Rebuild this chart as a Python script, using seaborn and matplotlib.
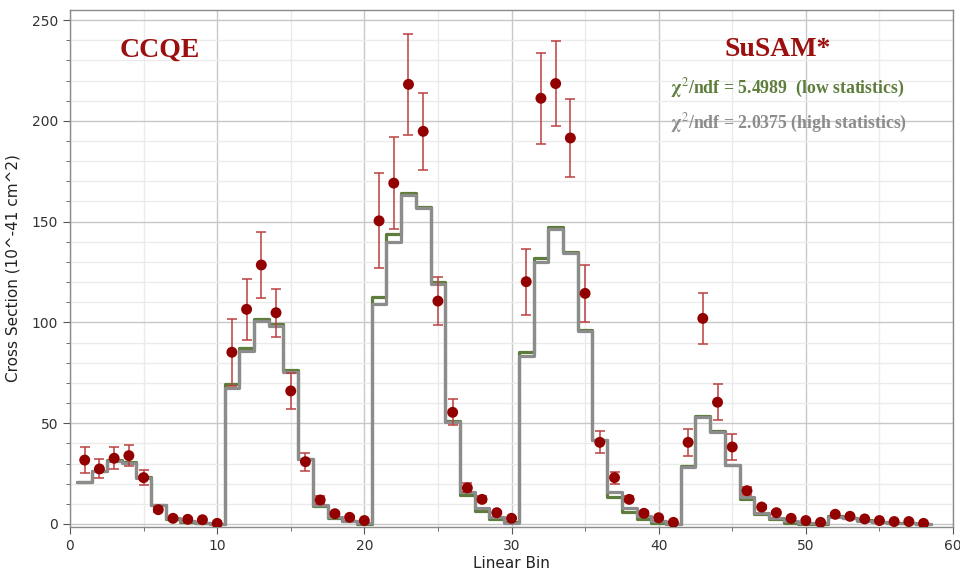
import numpy as np
import pandas as pd
import seaborn as sns
import matplotlib.pyplot as plt
from matplotlib.ticker import MultipleLocator

# bins 1..58
bins = np.arange(1, 59)

# model predictions (high statistics = grey, low statistics = green)
high_stat = [20.7, 26.3, 31.2, 30.4, 23.0, 9.4, 3.0, 1.5, 0.7, 0.1,
             67.6, 85.8, 100.8, 98.4, 75.4, 32.0, 9.4, 3.6, 1.7, 0.3,
             109.0, 140.0, 163.2, 156.9, 119.0, 50.8, 16.0, 7.8, 3.3, 0.5,
             83.3, 130.1, 146.2, 134.3, 95.7, 41.5, 15.7, 7.8, 4.0, 1.5,
             0.0, 28.4, 53.2, 45.8, 29.1, 13.2, 5.6, 3.0, 1.7, 0.7,
             0.3, 3.6, 3.0, 1.7, 1.0, 0.7, 0.3, 0.0]
low_stat = [20.7, 26.5, 31.5, 30.6, 23.3, 9.6, 2.6, 1.2, 0.5, 0.0,
            69.3, 87.5, 101.7, 99.2, 76.2, 32.3, 8.9, 3.2, 1.3, 0.2,
            112.4, 143.8, 164.0, 157.4, 120.2, 51.1, 14.4, 6.6, 2.3, 0.8,
            85.5, 132.1, 147.2, 134.8, 96.0, 41.8, 13.2, 5.8, 2.7, 0.7,
            0.0, 28.6, 53.5, 46.0, 29.3, 12.6, 5.0, 2.3, 0.7, 0.0,
            0.2, 3.8, 3.1, 1.8, 1.0, 0.6, 0.3, 0.0]

# measured data and errors
data_vals = [31.7, 27.3, 32.6, 33.9, 23.0, 7.1, 2.8, 2.3, 2.1, 0.3,
             85.2, 106.5, 128.5, 104.8, 66.0, 30.9, 11.9, 5.1, 3.3, 1.7,
             150.4, 169.1, 218.1, 194.8, 110.6, 55.4, 17.9, 12.2, 5.6, 2.8,
             120.2, 211.2, 218.5, 191.5, 114.4, 40.5, 23.0, 12.2, 5.3, 3.1,
             0.8, 40.5, 102.0, 60.4, 38.2, 16.5, 8.4, 5.6, 2.8, 1.7,
             0.8, 4.8, 3.8, 2.5, 1.7, 1.2, 1.2, 0.3]
data_err = [6.3, 4.7, 5.5, 5.2, 3.8, 1.2, 0.8, 0.6, 0.6, 0.2,
            16.7, 15.2, 16.3, 12.0, 9.0, 4.4, 2.0, 1.0, 0.8, 0.5,
            23.5, 22.8, 25.0, 19.0, 12.0, 6.4, 2.2, 1.5, 0.8, 0.5,
            16.4, 22.5, 21.0, 19.4, 14.3, 5.5, 3.0, 1.5, 1.0, 0.6,
            0.3, 6.8, 12.5, 9.0, 6.5, 2.0, 1.0, 0.8, 0.5, 0.4,
            0.3, 0.6, 0.5, 0.4, 0.3, 0.3, 0.3, 0.2]

sns.set_style("white")
plt.rcParams['mathtext.fontset'] = 'stix'

fig = plt.figure(figsize=(9.6, 5.74), dpi=100)
ax = fig.add_axes([70 / 960, 1 - 527 / 574, 883 / 960, 517 / 574])

# step histograms from bin edges
edges = np.arange(0.5, 59.5, 1.0)
steps = pd.DataFrame({
    'edge': edges,
    'low': low_stat + [low_stat[-1]],
    'high': high_stat + [high_stat[-1]],
})
sns.lineplot(data=steps, x='edge', y='low', drawstyle='steps-post',
             color='#5e7d3c', linewidth=2.3, ax=ax, zorder=3)
sns.lineplot(data=steps, x='edge', y='high', drawstyle='steps-post',
             color='#8c8c8c', linewidth=2.3, ax=ax, zorder=4)

# data points with error bars
ax.errorbar(bins, data_vals, yerr=data_err, fmt='none', ecolor='#bb4040',
            elinewidth=1.1, capsize=3.5, capthick=1.1, zorder=5)
sns.scatterplot(x=bins, y=data_vals, color='#930000', s=62,
                edgecolor='none', ax=ax, zorder=6)

ax.set_xlim(0, 60)
ax.set_ylim(-1.5, 255)
ax.xaxis.set_major_locator(MultipleLocator(10))
ax.xaxis.set_minor_locator(MultipleLocator(5))
ax.yaxis.set_major_locator(MultipleLocator(50))
ax.yaxis.set_minor_locator(MultipleLocator(10))
ax.grid(which='major', color='#c8c8c8', linewidth=1.0, zorder=0)
ax.grid(which='minor', color='#ebebeb', linewidth=1.0, zorder=0)
ax.set_axisbelow(True)
ax.tick_params(which='both', direction='out', color='#555555',
               labelcolor='#333333', labelsize=10)
ax.tick_params(which='major', length=5, bottom=True, left=True)
ax.tick_params(which='minor', length=3, bottom=True, left=True)
for s in ax.spines.values():
    s.set_color('#8a8a8a')
    s.set_linewidth(1.0)

ax.set_xlabel('Linear Bin', fontsize=11, color='#222222', labelpad=2)
ax.set_ylabel('Cross Section (10^-41 cm^2)', fontsize=11, color='#222222', labelpad=8)

# annotations
ax.text(6.1, 232, 'CCQE', ha='center', va='baseline', fontsize=20,
        fontweight='bold', family='Liberation Serif', color='#9b0f0f')
ax.text(48.1, 232, 'SuSAM*', ha='center', va='baseline', fontsize=20,
        fontweight='bold', family='Liberation Serif', color='#9b0f0f')
ax.text(40.8, 213.5, r'$\mathbf{\chi}^{2}$/ndf = 5.4989  (low statistics)',
        ha='left', va='baseline', fontsize=12.8, fontweight='bold',
        family='Liberation Serif', color='#5e7d3c')
ax.text(40.8, 196.5, r'$\mathbf{\chi}^{2}$/ndf = 2.0375 (high statistics)',
        ha='left', va='baseline', fontsize=12.8, fontweight='bold',
        family='Liberation Serif', color='#8c8c8c')

fig.savefig('out.png', dpi=100)
